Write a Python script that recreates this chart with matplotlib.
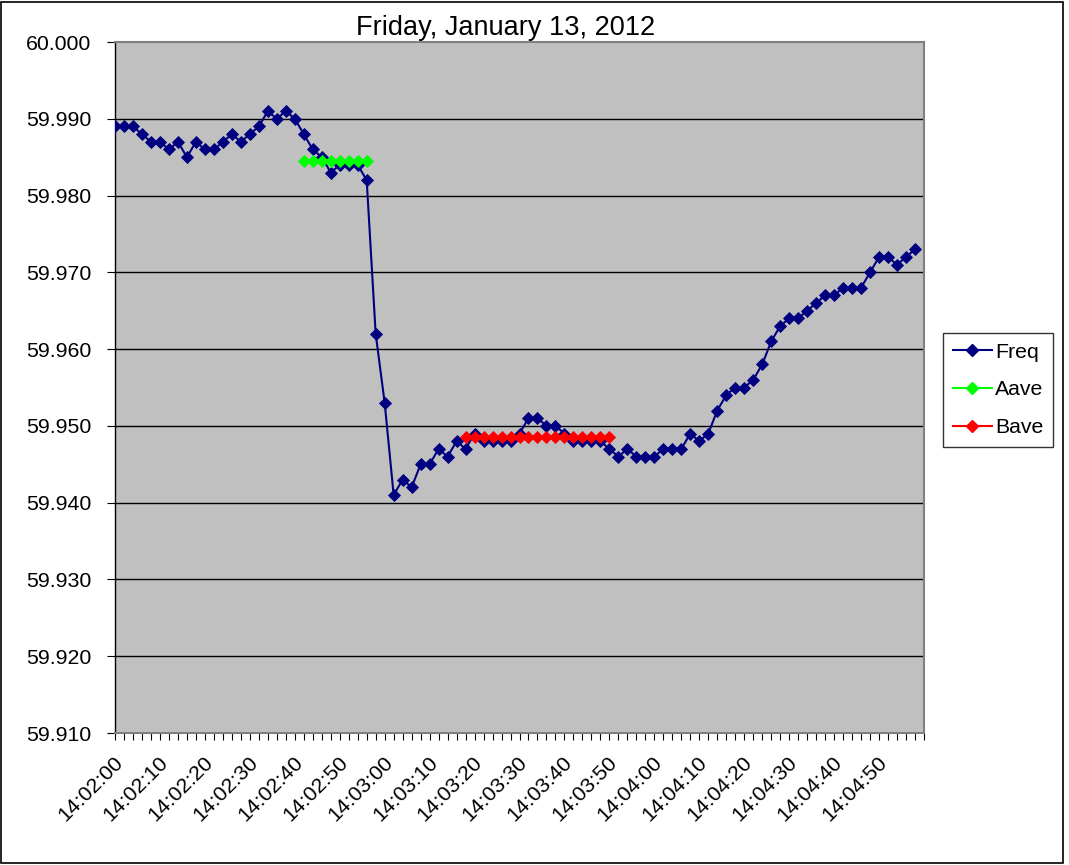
import matplotlib
matplotlib.use("Agg")
import matplotlib.pyplot as plt
from matplotlib.patches import Rectangle
from matplotlib.lines import Line2D
from matplotlib.transforms import ScaledTranslation

plt.rcParams['font.family'] = ['Liberation Sans', 'DejaVu Sans']

# ---- data ----
title = "Friday, January 13, 2012"
freq = [59.989, 59.989, 59.989, 59.988, 59.987, 59.987, 59.986, 59.987, 59.985, 59.987,
        59.986, 59.986, 59.987, 59.988, 59.987, 59.988, 59.989, 59.991, 59.990, 59.991,
        59.990, 59.988, 59.986, 59.985, 59.983, 59.984, 59.984, 59.984, 59.982, 59.962,
        59.953, 59.941, 59.943, 59.942, 59.945, 59.945, 59.947, 59.946, 59.948, 59.947,
        59.949, 59.948, 59.948, 59.948, 59.948, 59.949, 59.951, 59.951, 59.950, 59.950,
        59.949, 59.948, 59.948, 59.948, 59.948, 59.947, 59.946, 59.947, 59.946, 59.946,
        59.946, 59.947, 59.947, 59.947, 59.949, 59.948, 59.949, 59.952, 59.954, 59.955,
        59.955, 59.956, 59.958, 59.961, 59.963, 59.964, 59.964, 59.965, 59.966, 59.967,
        59.967, 59.968, 59.968, 59.968, 59.970, 59.972, 59.972, 59.971, 59.972, 59.973]
aave_start = 21
aave = [59.9845] * 8
bave_start = 39
bave = [59.9486] * 17
tick_labels = ["14:02:00", "14:02:10", "14:02:20", "14:02:30", "14:02:40", "14:02:50",
               "14:03:00", "14:03:10", "14:03:20", "14:03:30", "14:03:40", "14:03:50",
               "14:04:00", "14:04:10", "14:04:20", "14:04:30", "14:04:40", "14:04:50"]
n_categories = 91
label_every = 5
y_ticks = [59.910, 59.920, 59.930, 59.940, 59.950, 59.960, 59.970, 59.980, 59.990, 60.000]

# ---- figure ----
W, H = 1069, 865
fig = plt.figure(figsize=(W / 100, H / 100), dpi=100)
fig.patch.set_facecolor('white')
ax = fig.add_axes([115 / W, (H - 733) / H, (924 - 115) / W, (733 - 42) / H])
ax.set_facecolor('#C0C0C0')

x_freq = list(range(len(freq)))
x_aave = list(range(aave_start, aave_start + len(aave)))
x_bave = list(range(bave_start, bave_start + len(bave)))

MS = 6.0
mk = dict(marker='D', markersize=MS, markeredgewidth=0.6)
ax.plot(x_freq, freq, color='#000080', lw=1.5, markerfacecolor='#000080',
        markeredgecolor='#000080', label='Freq', zorder=3, **mk)
ax.plot(x_aave, aave, color='#00FF00', lw=1.5, markerfacecolor='#00FF00',
        markeredgecolor='#00FF00', label='Aave', zorder=4, **mk)
ax.plot(x_bave, bave, color='#FF0000', lw=1.5, markerfacecolor='#FF0000',
        markeredgecolor='#FF0000', label='Bave', zorder=4, **mk)

ax.set_xlim(0, n_categories - 1)
ax.set_ylim(59.910, 60.000)
ax.set_yticks(y_ticks)
ax.set_yticklabels([f"{v:.3f}" for v in y_ticks])
for v in y_ticks[1:-1]:
    ax.axhline(v, color='black', lw=1.0, zorder=1)

ax.set_xticks(range(n_categories), minor=False)
labels = []
for i in range(n_categories):
    if i % label_every == 0 and i // label_every < len(tick_labels):
        labels.append(tick_labels[i // label_every])
    else:
        labels.append("")
ax.set_xticklabels(labels, rotation=45, ha='right', va='center', rotation_mode='anchor')
ax.tick_params(axis='x', direction='out', length=5, width=0.8, color='black',
               labelsize=15.3, pad=14)
ax.tick_params(axis='y', direction='out', length=6, width=0.8, color='black',
               labelsize=15.3, pad=11)
off = ScaledTranslation(5 / 100, 0, fig.dpi_scale_trans)
for lbl in ax.get_xticklabels():
    lbl.set_transform(lbl.get_transform() + off)

for s in ['top', 'right', 'bottom']:
    ax.spines[s].set_color('#808080')
    ax.spines[s].set_linewidth(1.5)
ax.spines['left'].set_color('black')
ax.spines['left'].set_linewidth(1.0)

fig.text(506 / W, 1 - 28 / H, title, ha='center', va='center', fontsize=19.5)

handles = [Line2D([], [], color=c, lw=1.5, marker='D', markersize=MS,
                  markerfacecolor=c, markeredgecolor=c) for c in ['#000080', '#00FF00', '#FF0000']]
leg = fig.legend(handles, ['Freq', 'Aave', 'Bave'], loc='upper left',
                 bbox_to_anchor=(943 / W, 1 - 333 / H), frameon=True, fontsize=15.3,
                 handlelength=1.85, handletextpad=0.15, labelspacing=0.88,
                 borderpad=0.45, fancybox=False, borderaxespad=0)
leg.get_frame().set_edgecolor('black')
leg.get_frame().set_linewidth(1.0)

fig.patches.append(Rectangle((1 / W, 2 / H), 1062 / W, 861 / H, transform=fig.transFigure,
                             fill=False, edgecolor='black', lw=1.2))

fig.savefig('out.png', dpi=100)
